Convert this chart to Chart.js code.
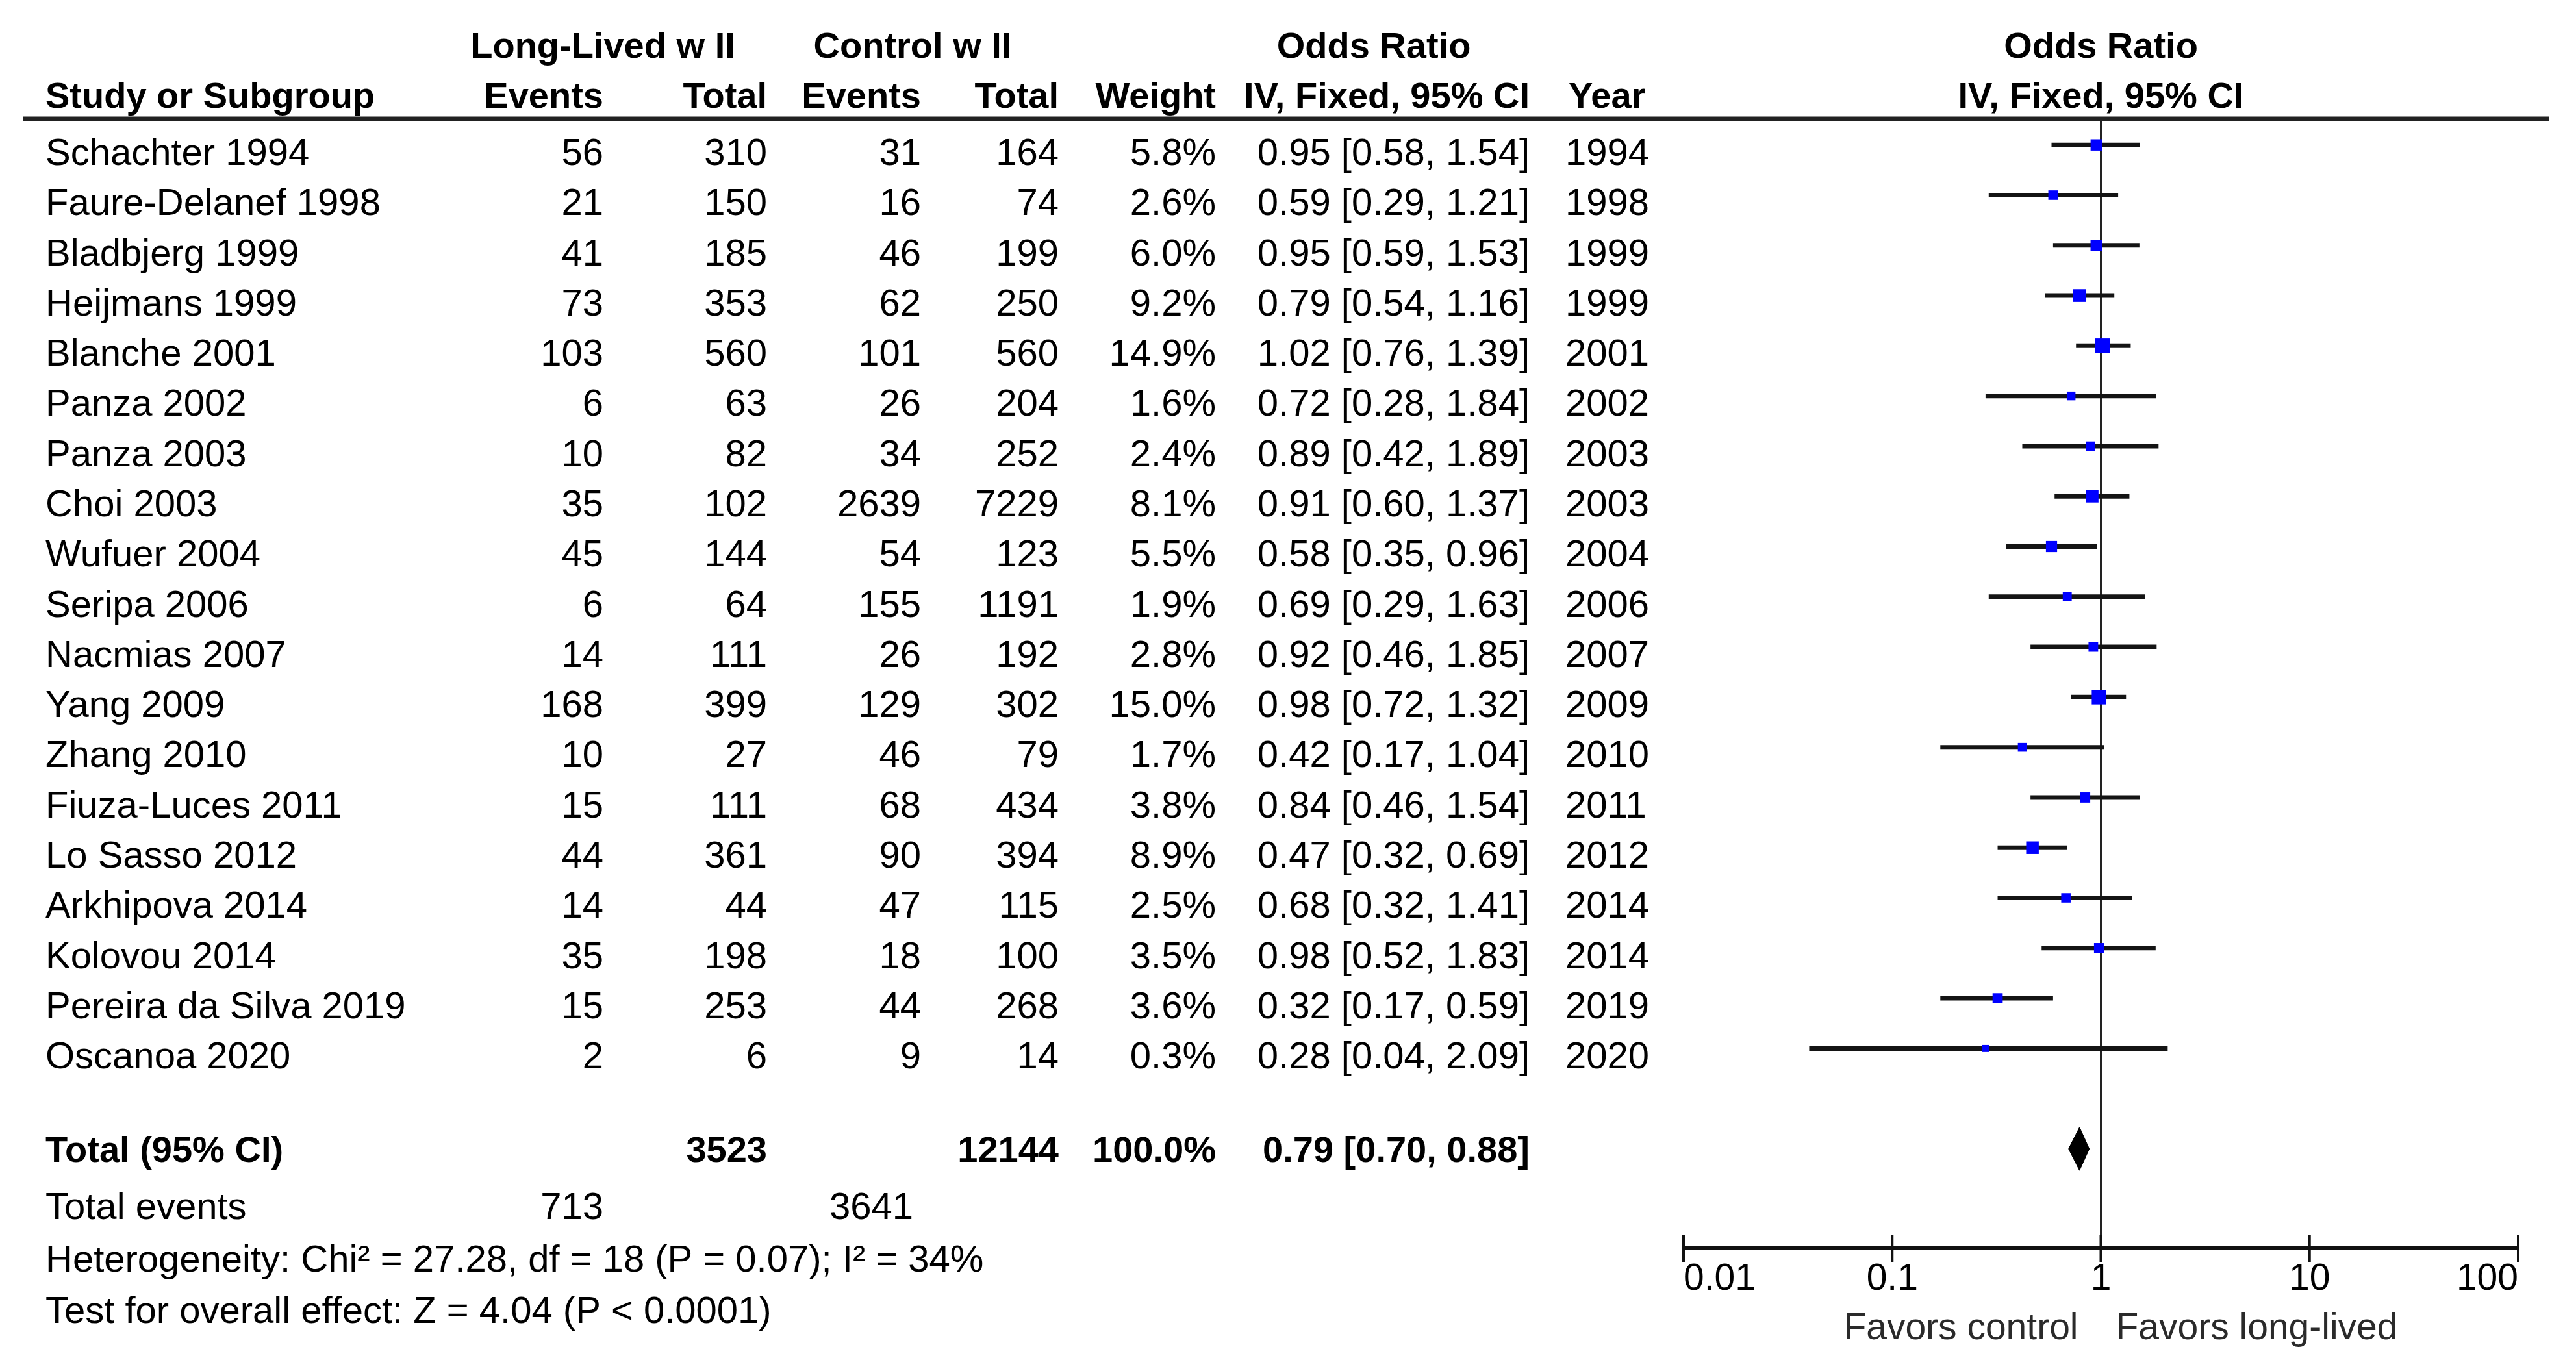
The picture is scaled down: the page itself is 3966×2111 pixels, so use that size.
<!DOCTYPE html>
<html>
<head>
<meta charset="utf-8">
<script src="https://cdn.jsdelivr.net/npm/chart.js@4"></script>
<style>
html,body{margin:0;padding:0;background:#ffffff;}
canvas{display:block;}
</style>
</head>
<body>
<canvas id="c" width="3966" height="2111" style="width:3966px;height:2111px"></canvas>
<script>
// ---------------- DATA ----------------
const studies = ['Schachter 1994','Faure-Delanef 1998','Bladbjerg 1999','Heijmans 1999','Blanche 2001','Panza 2002','Panza 2003','Choi 2003','Wufuer 2004','Seripa 2006','Nacmias 2007','Yang 2009','Zhang 2010','Fiuza-Luces 2011','Lo Sasso 2012','Arkhipova 2014','Kolovou 2014','Pereira da Silva 2019','Oscanoa 2020'];
const llEvents   = [56,21,41,73,103,6,10,35,45,6,14,168,10,15,44,14,35,15,2];
const llTotal    = [310,150,185,353,560,63,82,102,144,64,111,399,27,111,361,44,198,253,6];
const ctrlEvents = [31,16,46,62,101,26,34,2639,54,155,26,129,46,68,90,47,18,44,9];
const ctrlTotal  = [164,74,199,250,560,204,252,7229,123,1191,192,302,79,434,394,115,100,268,14];
const weights    = [5.8,2.6,6.0,9.2,14.9,1.6,2.4,8.1,5.5,1.9,2.8,15.0,1.7,3.8,8.9,2.5,3.5,3.6,0.3];
const oddsRatio  = [0.95,0.59,0.95,0.79,1.02,0.72,0.89,0.91,0.58,0.69,0.92,0.98,0.42,0.84,0.47,0.68,0.98,0.32,0.28];
const ciLow      = [0.58,0.29,0.59,0.54,0.76,0.28,0.42,0.60,0.35,0.29,0.46,0.72,0.17,0.46,0.32,0.32,0.52,0.17,0.04];
const ciHigh     = [1.54,1.21,1.53,1.16,1.39,1.84,1.89,1.37,0.96,1.63,1.85,1.32,1.04,1.54,0.69,1.41,1.83,0.59,2.09];
const years      = [1994,1998,1999,1999,2001,2002,2003,2003,2004,2006,2007,2009,2010,2011,2012,2014,2014,2019,2020];

const totalLabel = 'Total (95% CI)';
const totalLLTotal = 3523;
const totalCtrlTotal = 12144;
const totalWeight = 100.0;
const totalOR = 0.79;
const totalLow = 0.70;
const totalHigh = 0.88;
const totalLLEvents = 713;
const totalCtrlEvents = 3641;
const heterogeneityText = 'Heterogeneity: Chi\u00B2 = 27.28, df = 18 (P = 0.07); I\u00B2 = 34%';
const overallEffectText = 'Test for overall effect: Z = 4.04 (P < 0.0001)';

const tickValues = [0.01, 0.1, 1, 10, 100];
const tickLabels = ['0.01', '0.1', '1', '10', '100'];
const favorsLeft = 'Favors control';
const favorsRight = 'Favors long-lived';

// ---------------- STYLE / LAYOUT ----------------
const FONT = '"Liberation Sans", Arial, sans-serif';
const FS = 58, FSB = 56, FSA = 57;
const Y_TOP = -0.52, Y_BOTTOM = 21.98;
const TOTAL_ROW = 20;
const DIAMOND_HALF = 0.43;

// ---------------- DATASETS ----------------
const datasets = [];
datasets.push({
  label: 'Study estimates',
  data: oddsRatio.map((v, i) => ({x: v, y: i})),
  showLine: false,
  pointStyle: 'rect',
  pointRadius: weights.map(w => (9 + 3.5 * Math.sqrt(w)) / Math.SQRT2),
  pointBackgroundColor: '#0000ff',
  pointBorderColor: '#0000ff',
  pointBorderWidth: 0,
  order: 0
});
studies.forEach((s, i) => {
  datasets.push({
    label: s + ' CI',
    data: [{x: ciLow[i], y: i}, {x: ciHigh[i], y: i}],
    showLine: true,
    borderColor: '#141414',
    borderWidth: 7,
    pointRadius: 0,
    order: 1
  });
});
datasets.push({
  label: 'Total',
  data: [
    {x: totalLow, y: TOTAL_ROW},
    {x: totalOR, y: TOTAL_ROW - DIAMOND_HALF},
    {x: totalHigh, y: TOTAL_ROW},
    {x: totalOR, y: TOTAL_ROW + DIAMOND_HALF},
    {x: totalLow, y: TOTAL_ROW}
  ],
  showLine: true,
  fill: 'shape',
  backgroundColor: '#000000',
  borderColor: '#000000',
  borderWidth: 1,
  pointRadius: 0,
  order: 1
});
datasets.push({
  label: 'No effect',
  data: [{x: 1, y: Y_TOP}, {x: 1, y: Y_BOTTOM}],
  showLine: true,
  borderColor: '#222222',
  borderWidth: 3,
  pointRadius: 0,
  order: 2
});

// ---------------- TABLE PLUGIN ----------------
const tablePlugin = {
  id: 'forestTable',
  afterDraw(chart) {
    const ctx = chart.ctx;
    const ys = chart.scales.y, xs = chart.scales.x;
    const yc = v => ys.getPixelForValue(v);
    function t(s, x, yu, align, bold, size, color) {
      const fs = size || (bold ? FSB : FS);
      ctx.font = (bold ? 'bold ' : '') + fs + 'px ' + FONT;
      ctx.textAlign = align;
      ctx.textBaseline = 'alphabetic';
      ctx.fillStyle = color || '#000000';
      ctx.fillText(String(s), x, yc(yu) + 0.358 * fs);
    }
    ctx.save();
    // header separator line
    ctx.strokeStyle = '#222222';
    ctx.lineWidth = 7;
    ctx.beginPath();
    ctx.moveTo(36, yc(Y_TOP));
    ctx.lineTo(3925, yc(Y_TOP));
    ctx.stroke();

    // tick marks crossing the axis
    const axisY = yc(Y_BOTTOM);
    ctx.strokeStyle = '#111111';
    ctx.lineWidth = 4;
    tickValues.forEach(v => {
      const x = xs.getPixelForValue(v);
      ctx.beginPath();
      ctx.moveTo(x, axisY - 20);
      ctx.lineTo(x, axisY + 21);
      ctx.stroke();
    });

    const xName = 70, xE1 = 929, xT1 = 1181, xE2 = 1418, xT2 = 1630, xW = 1872, xCI = 2355, xYear = 2410;
    const x1 = xs.getPixelForValue(1);

    // headers
    t('Long-Lived w II', 928, -2, 'center', true);
    t('Control w II', 1405, -2, 'center', true);
    t('Odds Ratio', 2115, -2, 'center', true);
    t('Odds Ratio', x1, -2, 'center', true);
    t('Study or Subgroup', xName, -1, 'left', true);
    t('Events', xE1, -1, 'right', true);
    t('Total', xT1, -1, 'right', true);
    t('Events', xE2, -1, 'right', true);
    t('Total', xT2, -1, 'right', true);
    t('Weight', xW, -1, 'right', true);
    t('IV, Fixed, 95% CI', xCI, -1, 'right', true);
    t('Year', xYear + 5, -1, 'left', true);
    t('IV, Fixed, 95% CI', x1, -1, 'center', true);

    // study rows
    studies.forEach((s, i) => {
      const yu = i + 0.13;
      t(s, xName, yu, 'left');
      t(llEvents[i], xE1, yu, 'right');
      t(llTotal[i], xT1, yu, 'right');
      t(ctrlEvents[i], xE2, yu, 'right');
      t(ctrlTotal[i], xT2, yu, 'right');
      t(weights[i].toFixed(1) + '%', xW, yu, 'right');
      t(oddsRatio[i].toFixed(2) + ' [' + ciLow[i].toFixed(2) + ', ' + ciHigh[i].toFixed(2) + ']', xCI, yu, 'right');
      t(years[i], xYear, yu, 'left');
    });

    // total row
    t(totalLabel, xName, TOTAL_ROW, 'left', true);
    t(totalLLTotal, xT1, TOTAL_ROW, 'right', true);
    t(totalCtrlTotal, xT2, TOTAL_ROW, 'right', true);
    t(totalWeight.toFixed(1) + '%', xW, TOTAL_ROW, 'right', true);
    t(totalOR.toFixed(2) + ' [' + totalLow.toFixed(2) + ', ' + totalHigh.toFixed(2) + ']', xCI, TOTAL_ROW, 'right', true);

    // summary lines
    t('Total events', xName, 21.13, 'left');
    t(totalLLEvents, xE1, 21.13, 'right');
    t(totalCtrlEvents, 1406, 21.13, 'right');
    t(heterogeneityText, xName, 22.18, 'left');
    t(overallEffectText, xName, 23.2, 'left');

    // favours labels
    ctx.font = FSA + 'px ' + FONT;
    ctx.fillStyle = '#2a2a2a';
    ctx.textBaseline = 'alphabetic';
    ctx.textAlign = 'right';
    ctx.fillText(favorsLeft, x1 - 35, 2062);
    ctx.textAlign = 'left';
    ctx.fillText(favorsRight, x1 + 23, 2062);
    ctx.restore();
  }
};

// ---------------- CHART ----------------
new Chart(document.getElementById('c'), {
  type: 'scatter',
  data: { datasets },
  options: {
    responsive: false,
    devicePixelRatio: 1,
    animation: false,
    events: [],
    layout: { padding: { left: 2592, right: 89, top: 183, bottom: 0 } },
    plugins: { legend: { display: false }, tooltip: { enabled: false } },
    scales: {
      x: {
        type: 'logarithmic',
        position: 'bottom',
        min: 0.01,
        max: 100,
        afterBuildTicks: s => { s.ticks = tickValues.map(v => ({ value: v })); },
        afterFit: s => { s.height = 2111 - 1922; },
        grid: { display: false, drawTicks: false, drawOnChartArea: false },
        border: { display: true, color: '#111111', width: 6 },
        ticks: {
          autoSkip: false,
          maxRotation: 0,
          minRotation: 0,
          align: 'inner',
          padding: 20,
          color: '#000000',
          font: { family: FONT, size: FSA, lineHeight: 1 },
          callback: (v, i) => tickLabels[i]
        }
      },
      y: {
        type: 'linear',
        display: false,
        reverse: true,
        min: Y_TOP,
        max: Y_BOTTOM
      }
    }
  },
  plugins: [tablePlugin]
});
</script>
</body>
</html>
